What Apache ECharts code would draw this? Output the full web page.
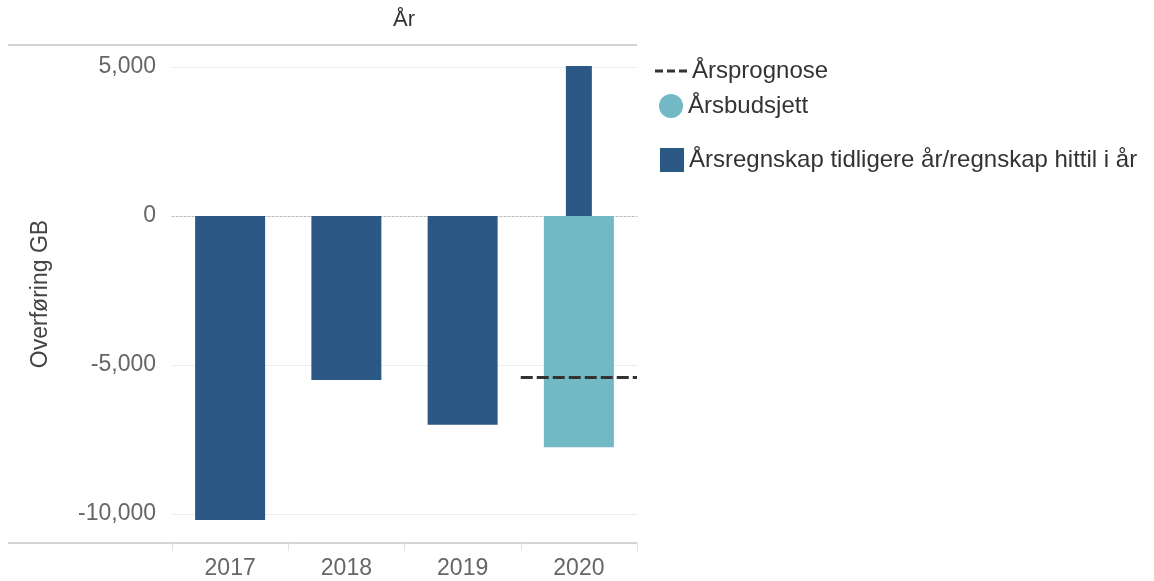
<!DOCTYPE html>
<html>
<head>
<meta charset="utf-8">
<script src="https://cdn.jsdelivr.net/npm/echarts@6/dist/echarts.min.js"></script>
<style>
  html, body { margin: 0; padding: 0; background: #fff; }
  #chart { width: 1154px; height: 581px; }
</style>
</head>
<body>
<div id="chart"></div>
<script>
// data
var years = ["2017", "2018", "2019", "2020"];
var regnskap = [-10200, -5500, -7000, null];      // wide dark bars
var regnskapHittil = [null, null, null, 5030];    // narrow dark bar (this year so far)
var budsjett = [null, null, null, -7760];
var prognose = [null, null, null, -5420];
var yTicks = [-10000, -5000, 0, 5000];

var darkBlue = "#2c5885";
var lightBlue = "#72b9c5";
var textFont = "'Liberation Sans', Arial, sans-serif";

var nameRegnskap = "Årsregnskap tidligere år/regnskap hittil i år";

var chart = echarts.init(document.getElementById("chart"));

var option = {
  animation: false,
  title: {
    text: "År",
    left: 404,
    top: 9,
    padding: 0,
    textAlign: "center",
    textStyle: { fontFamily: textFont, fontSize: 22, fontWeight: "normal", color: "#333" },
  },
  grid: {
    left: 172,
    right: 517,
    top: 45,
    bottom: 38,
    containLabel: false,
  },
  legend: [
    {
      left: 655, top: 59, padding: 0,
      itemWidth: 32, itemHeight: 3,
      data: [{ name: "Årsprognose", icon: "path://M0,0h8v3h-8zM12,0h8v3h-8zM24,0h8v3h-8z" }],
      textStyle: { fontFamily: textFont, fontSize: 24, color: "#333" },
    },
    {
      left: 659, top: 94, padding: 0,
      itemWidth: 24, itemHeight: 24,
      data: [{ name: "Årsbudsjett", icon: "circle" }],
      textStyle: { fontFamily: textFont, fontSize: 24, color: "#333" },
    },
    {
      left: 660, top: 148, padding: 0,
      itemWidth: 24, itemHeight: 24,
      data: [{ name: nameRegnskap, icon: "rect" }],
      textStyle: { fontFamily: textFont, fontSize: 24, color: "#333" },
    },
  ],
  xAxis: [
    {
      type: "category",
      data: years,
      position: "bottom",
      axisLine: { show: false, onZero: false },
      axisTick: { show: true, length: 8, lineStyle: { color: "#e2e2e2", width: 1 } },
      axisLabel: { fontFamily: textFont, fontSize: 23, color: "#666", margin: 14 },
      splitLine: { show: false },
    },
    {
      // hidden twin axis: narrow bar + dotted zero line
      type: "category",
      data: years,
      position: "top",
      axisLine: { show: true, onZero: true, lineStyle: { color: "#b8b8b8", type: [2, 2], width: 1 } },
      axisTick: { show: false },
      axisLabel: { show: false },
      splitLine: { show: false },
    },
  ],
  yAxis: {
    type: "value",
    min: -10970,
    max: 5736,
    splitNumber: 3,
    name: "Overføring GB",
    nameLocation: "middle",
    nameGap: 120,
    nameTextStyle: { fontFamily: textFont, fontSize: 23, color: "#444" },
    axisLine: { show: false },
    axisTick: { show: false },
    axisLabel: {
      fontFamily: textFont,
      fontSize: 23,
      color: "#666",
      margin: 16,
      customValues: yTicks,
    },
    splitLine: {
      show: true,
      lineStyle: {
        color: ["rgba(0,0,0,0)", "#ececec", "#ececec", "rgba(0,0,0,0)", "#ececec", "rgba(0,0,0,0)"],
        width: 1,
      },
    },
  },
  graphic: [
    { type: "line", shape: { x1: 8, y1: 45, x2: 637, y2: 45 }, style: { stroke: "#d3d3d3", lineWidth: 2 }, silent: true },
    { type: "line", shape: { x1: 8, y1: 543, x2: 637, y2: 543 }, style: { stroke: "#d3d3d3", lineWidth: 2 }, silent: true },
  ],
  series: [
    {
      name: nameRegnskap,
      type: "bar",
      xAxisIndex: 0,
      data: regnskap,
      barWidth: 70,
      barGap: "-100%",
      itemStyle: { color: darkBlue },
      clip: false,
    },
    {
      name: "Årsbudsjett",
      type: "bar",
      xAxisIndex: 0,
      data: budsjett,
      barWidth: 70,
      barGap: "-100%",
      itemStyle: { color: lightBlue },
    },
    {
      name: nameRegnskap,
      type: "bar",
      xAxisIndex: 1,
      data: regnskapHittil,
      barWidth: 26,
      itemStyle: { color: darkBlue },
    },
    {
      name: "Årsprognose",
      type: "custom",
      xAxisIndex: 0,
      itemStyle: { color: "#333" },
      data: years.map(function(y, i) { return [y, prognose[i]]; }).filter(function(d) { return d[1] != null; }),
      renderItem: function(params, api) {
        var p = api.coord([api.value(0), api.value(1)]);
        var w = api.size([1, 0])[0];
        return {
          type: "line",
          z2: 10,
          shape: { x1: p[0] - w / 2, y1: p[1], x2: p[0] + w / 2, y2: p[1] },
          style: { stroke: "#333", lineWidth: 3, lineDash: [12, 4] },
        };
      },
      z: 5,
    },
  ],
};

chart.setOption(option);

window.addEventListener("resize", function() {
  chart.resize();
});
</script>
</body>
</html>
